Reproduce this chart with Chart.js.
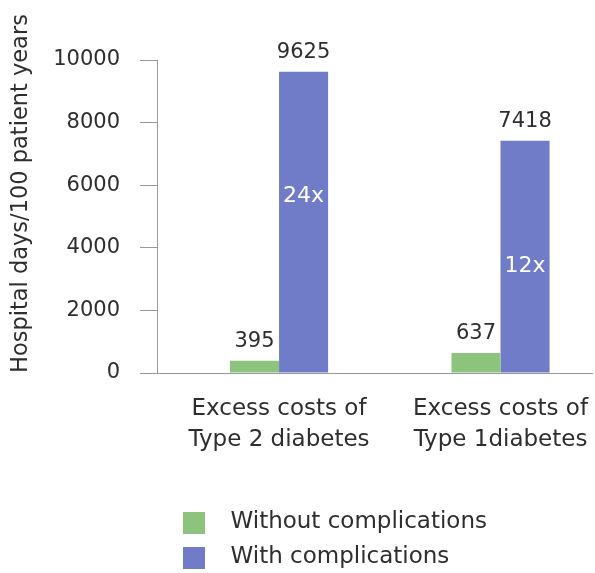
<!DOCTYPE html>
<html lang="en">
<head>
    <meta charset="UTF-8">
    <title>Hospital days</title>
    <script src="https://cdn.jsdelivr.net/npm/chart.js"></script>
    <style>
        html, body { margin: 0; padding: 0; background: #fff; }
        #wrap { position: relative; width: 595px; height: 573px; }
    </style>
</head>
<body>
    <div id="wrap"><canvas id="hospitalChart"></canvas></div>

    <script>
        // datos
        const categories = [
            ['Excess costs of', 'Type 2 diabetes'],
            ['Excess costs of', 'Type 1diabetes']
        ];
        const seriesNames = ['Without complications', 'With complications'];
        const withoutComplications = [395, 637];
        const withComplications = [9625, 7418];
        const ratioLabels = ['24x', '12x'];
        const yTicks = [0, 2000, 4000, 6000, 8000, 10000];

        const fontFamily = "'DejaVu Sans', sans-serif";
        const textColor = '#2e2e2e';
        const axisColor = '#999';
        const green = '#8cc47e';
        const blue = '#707cc8';

        // cuadro de color para la leyenda
        function swatch(color) {
            const c = document.createElement('canvas');
            c.width = 22;
            c.height = 22;
            const g = c.getContext('2d');
            g.fillStyle = color;
            g.fillRect(0, 0, 22, 22);
            return c;
        }
        const swatches = [swatch(green), swatch(blue)];

        // valores encima de las barras y el "24x"/"12x" dentro
        const barLabels = {
            id: 'barLabels',
            afterDatasetsDraw(chart, args, opts) {
                const ctx = chart.ctx;
                ctx.save();
                ctx.font = `21px ${fontFamily}`;
                ctx.textAlign = 'center';
                ctx.textBaseline = 'alphabetic';
                ctx.fillStyle = textColor;
                chart.data.datasets.forEach((ds, di) => {
                    chart.getDatasetMeta(di).data.forEach((bar, i) => {
                        ctx.fillText(String(ds.data[i].y), bar.x, bar.y - 14);
                    });
                });
                ctx.font = `22px ${fontFamily}`;
                ctx.fillStyle = '#fff';
                ctx.textBaseline = 'middle';
                chart.getDatasetMeta(1).data.forEach((bar, i) => {
                    const y = bar.y + opts.ratioPos[i] * (bar.base - bar.y);
                    ctx.fillText(ratioLabels[i], bar.x, y);
                });
                ctx.restore();
            }
        };

        const ctx = document.getElementById('hospitalChart').getContext('2d');

        const hospitalChart = new Chart(ctx, {
            type: 'bar',
            data: {
                datasets: [{
                    label: seriesNames[0],
                    data: withoutComplications.map((v, i) => ({ x: i, y: v })),
                    backgroundColor: green
                }, {
                    label: seriesNames[1],
                    data: withComplications.map((v, i) => ({ x: i, y: v })),
                    backgroundColor: blue
                }]
            },
            plugins: [barLabels],
            options: {
                responsive: true,
                maintainAspectRatio: false,
                animation: false,
                categoryPercentage: 0.443,
                barPercentage: 1,
                layout: {
                    padding: { top: 60, right: 3, bottom: -6, left: 0 }
                },
                scales: {
                    x: {
                        type: 'linear',
                        min: -0.551,
                        max: 1.413,
                        bounds: 'data',
                        offset: false,
                        grid: { display: false, drawTicks: false },
                        border: { display: true, color: axisColor, width: 1 },
                        afterBuildTicks: (scale) => {
                            scale.ticks = categories.map((c, i) => ({ value: i }));
                        },
                        ticks: {
                            padding: 21,
                            color: textColor,
                            font: { family: fontFamily, size: 23, lineHeight: 1.33 },
                            callback: (value) => categories[value] || ''
                        },
                        afterFit: (scale) => {
                            scale.height = 126;
                            scale.paddingLeft = 0;
                            scale.paddingRight = 0;
                        }
                    },
                    y: {
                        min: 0,
                        max: 10000,
                        afterBuildTicks: (scale) => {
                            scale.ticks = yTicks.map(v => ({ value: v }));
                        },
                        grid: { drawOnChartArea: false, drawTicks: true, tickLength: 17, color: axisColor },
                        border: { display: true, color: axisColor, width: 1 },
                        ticks: {
                            padding: 20,
                            color: textColor,
                            font: { family: fontFamily, size: 21 },
                            callback: (value) => String(value)
                        },
                        title: {
                            display: true,
                            text: 'Hospital days/100 patient years',
                            align: 'start',
                            color: textColor,
                            font: { family: fontFamily, size: 22.5 },
                            padding: { top: 8, bottom: 0 }
                        },
                        afterFit: (scale) => { scale.width = 157; }
                    }
                },
                plugins: {
                    legend: {
                        position: 'bottom',
                        align: 'start',
                        fullSize: false,
                        labels: {
                            usePointStyle: true,
                            pointStyleWidth: 50,
                            boxHeight: 22,
                            padding: 12,
                            color: textColor,
                            font: { family: fontFamily, size: 23 },
                            generateLabels: (chart) => chart.data.datasets.map((ds, i) => ({
                                text: ds.label,
                                fillStyle: ds.backgroundColor,
                                strokeStyle: ds.backgroundColor,
                                lineWidth: 0,
                                pointStyle: swatches[i],
                                hidden: false,
                                datasetIndex: i,
                                fontColor: textColor
                            }))
                        }
                    },
                    tooltip: { enabled: false },
                    barLabels: { ratioPos: [0.415, 0.543] }
                }
            }
        });
    </script>
</body>
</html>
